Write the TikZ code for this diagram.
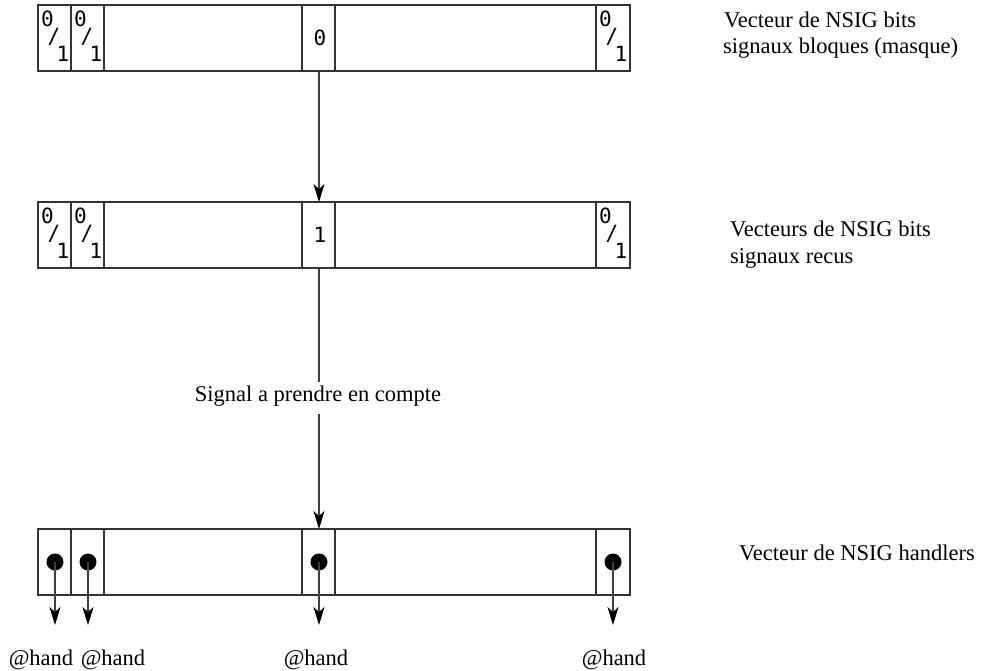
\documentclass[tikz,border=0pt]{standalone}
\usepackage{fontspec}
\setmainfont{Liberation Serif}
\setmonofont{DejaVu Sans Mono}
\usetikzlibrary{arrows.meta}
\begin{document}
\begin{tikzpicture}[x=1pt,y=-1pt,
  cell/.style={draw=black!80,line width=1.1pt},
  bit/.style={font=\ttfamily\fontsize{21}{21}\selectfont,inner sep=0pt},
  lbl/.style={font=\fontsize{22.5}{24}\selectfont,inner sep=0pt,anchor=west},
  hand/.style={font=\fontsize{22.5}{24}\selectfont,inner sep=0pt},
  conn/.style={draw=black!75,line width=1.1pt},
  arr/.style={conn,-{Stealth[length=18pt,width=11pt,inset=5pt,color=black]}},
  dot/.style={circle,fill=black,inner sep=0pt,minimum size=17pt}]
\useasboundingbox (0,0) rectangle (984,670);
% boxes
\foreach \y/\n in {5/A,202/B,529/C}{
  \draw[cell] (38,\y) rectangle (630,\y+66);
  \foreach \x in {71,104,302,335,596}{\draw[cell] (\x,\y) -- (\x,\y+66);}
}
\coordinate (Abot) at (319,71);
\coordinate (Btop) at (319,202);
\coordinate (Bbot) at (319,268);
\coordinate (Ctop) at (319,529);
\coordinate (s1) at (319,382);
\coordinate (s2) at (319,414);
% bits
\foreach \y in {5,202}{
  \foreach \x in {38,71,596}{
    \node[bit] at (\x+9.5,\y+14) {0};
    \node[bit] at (\x+16,\y+32) {/};
    \node[bit] at (\x+25,\y+49) {1};
  }
}
\node[bit] (z) at (320,38) {0};
\node[bit] (o) at (320,235) {1};
% arrows
\draw[arr] (Abot) -- (Btop);
\node[hand] (sig) at (318,396) {Signal a prendre en compte};
\draw[conn] (Bbot) -- (s1);
\draw[arr] (s2) -- (Ctop);
% handlers
\foreach \x/\lx/\i in {55/41/1,88/113/2,319/316/3,613/614/4}{
  \node[dot] (d\i) at (\x,562) {};
  \coordinate (e\i) at (\x,625);
  \draw[arr] (d\i.center) -- (e\i);
  \node[hand] (h\i) at (\lx,660) {@hand};
}
% right labels
\node[lbl] (l1) at (724,20) {Vecteur de NSIG bits};
\node[lbl] (l2) at (723,48) {signaux bloques (masque)};
\node[lbl] (l3) at (730,229) {Vecteurs de NSIG bits};
\node[lbl] (l4) at (730,258) {signaux recus};
\node[lbl] (l5) at (739,553) {Vecteur de NSIG handlers};
\end{tikzpicture}
\end{document}
